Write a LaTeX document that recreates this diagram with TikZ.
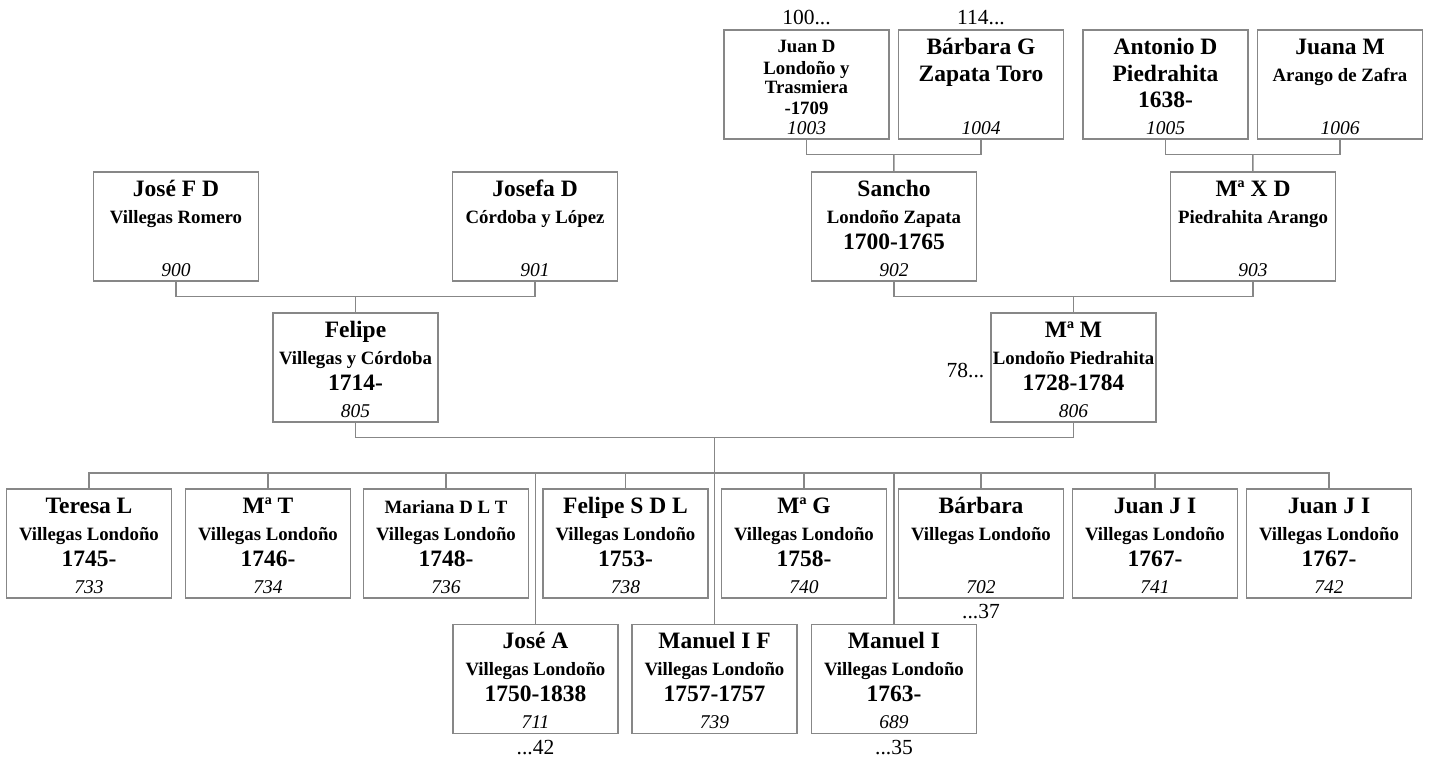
\documentclass[tikz,border=0pt]{standalone}
\usepackage{fontspec}
\setmainfont{Liberation Serif}
\usepackage{tikz}
\usetikzlibrary{calc,positioning}
\definecolor{linea}{RGB}{135,135,135}
\newcommand{\Grande}{\fontsize{23.5}{26}\selectfont}
\newcommand{\Medio}{\fontsize{18.8}{20.5}\selectfont}
% box: name, position, first names, surnames, years, id
\newcommand{\Persona}[6]{%
  \node[pbox] (#1) at (#2) {};
  \node[nom]   at ([yshift=-24pt]#1.north)  {#3};
  \node[ape]   at ([yshift=-51pt]#1.north)  {#4};
  \node[anio]  at ([yshift=-77pt]#1.north)  {#5};
  \node[ident] at ([yshift=-104pt]#1.north) {#6};
}

\begin{document}
\begin{tikzpicture}[
    x=1pt, y=-1pt,
    pbox/.style={rectangle, draw=linea, line width=1.5pt, minimum width=165pt, minimum height=109pt, inner sep=0pt, outer sep=0pt},
    nom/.style={font=\bfseries\Grande, anchor=base, inner sep=0pt},
    ape/.style={font=\bfseries\Medio, anchor=base, inner sep=0pt},
    anio/.style={font=\bfseries\Grande, anchor=base, inner sep=0pt},
    ident/.style={font=\itshape\fontsize{19.5}{22}\selectfont, anchor=base, inner sep=0pt},
    nota/.style={font=\fontsize{21.5}{24}\selectfont, inner sep=0pt},
    conn/.style={draw=linea, line width=1.5pt},
  ]
  \useasboundingbox (0,0) rectangle (1436,761);

  % generation 1000
  \node[pbox] (p1003) at (806.5,84.5) {};
  \node[ape] at ([yshift=-22.6pt]p1003.north) {Juan D};
  \node[ape] at ([yshift=-44pt]p1003.north) {Londoño y};
  \node[ape] at ([yshift=-63.6pt]p1003.north) {Trasmiera};
  \node[ape] at ([yshift=-84pt]p1003.north) {-1709};
  \node[ident] at ([yshift=-104pt]p1003.north) {1003};
  \Persona{p1004}{981,84.5}{Bárbara G}{\Grande Zapata Toro}{}{1004}
  \Persona{p1005}{1165.5,84.5}{Antonio D}{\Grande Piedrahita}{1638-}{1005}
  \Persona{p1006}{1340,84.5}{Juana M}{Arango de Zafra}{}{1006}

  % generation 900
  \Persona{p900}{176,226.5}{José F D}{Villegas Romero}{}{900}
  \Persona{p901}{535,226.5}{Josefa D}{Córdoba y López}{}{901}
  \Persona{p902}{894,226.5}{Sancho}{Londoño Zapata}{1700-1765}{902}
  \Persona{p903}{1253,226.5}{Mª X D}{Piedrahita Arango}{}{903}

  % generation 800
  \Persona{p805}{355.5,367.5}{Felipe}{Villegas y Córdoba}{1714-}{805}
  \Persona{p806}{1073.5,367.5}{Mª M}{Londoño Piedrahita}{1728-1784}{806}

  % children
  \Persona{p733}{89,543.5}{Teresa L}{Villegas Londoño}{1745-}{733}
  \Persona{p734}{268,543.5}{Mª T}{Villegas Londoño}{1746-}{734}
  \Persona{p736}{446,543.5}{\Medio Mariana D L T}{Villegas Londoño}{1748-}{736}
  \Persona{p738}{625.5,543.5}{Felipe S D L}{Villegas Londoño}{1753-}{738}
  \Persona{p740}{804,543.5}{Mª G}{Villegas Londoño}{1758-}{740}
  \Persona{p702}{981,543.5}{Bárbara}{Villegas Londoño}{}{702}
  \Persona{p741}{1155,543.5}{Juan J I}{Villegas Londoño}{1767-}{741}
  \Persona{p742}{1329,543.5}{Juan J I}{Villegas Londoño}{1767-}{742}
  \Persona{p711}{535.5,679}{José A}{Villegas Londoño}{1750-1838}{711}
  \Persona{p739}{714.5,679}{Manuel I F}{Villegas Londoño}{1757-1757}{739}
  \Persona{p689}{894,679}{Manuel I}{Villegas Londoño}{1763-}{689}

  % continuation marks
  \node[nota, anchor=base] at ([yshift=5.7pt]p1003.north) {100...};
  \node[nota, anchor=base] at ([yshift=5.7pt]p1004.north) {114...};
  \node[nota, anchor=base east] at ([xshift=-6.5pt, yshift=-9.5pt]p806.west) {78...};
  \node[nota, anchor=base] at ([yshift=-20pt]p702.south) {...37};
  \node[nota, anchor=base] at ([yshift=-21pt]p711.south) {...42};
  \node[nota, anchor=base] at ([yshift=-21pt]p689.south) {...35};

  % couples
  \coordinate (u902) at ($(p1003.south)!0.5!(p1004.south)+(0,15.5)$);
  \coordinate (u903) at ($(p1005.south)!0.5!(p1006.south)+(0,15.5)$);
  \coordinate (u805) at ($(p900.south)!0.5!(p901.south)+(0,15.5)$);
  \coordinate (u806) at ($(p902.south)!0.5!(p903.south)+(0,15.5)$);
  \coordinate (uhij) at ($(p805.south)!0.5!(p806.south)+(0,15.5)$);
  \draw[conn] (p1003.south) |- (u902) -| (p1004.south);
  \draw[conn] (u902) -- (p902.north);
  \draw[conn] (p1005.south) |- (u903) -| (p1006.south);
  \draw[conn] (u903) -- (p903.north);
  \draw[conn] (p900.south) |- (u805) -| (p901.south);
  \draw[conn] (u805) -- (p805.north);
  \draw[conn] (p902.south) |- (u806) -| (p903.south);
  \draw[conn] (u806) -- (p806.north);
  \draw[conn] (p805.south) |- (uhij) -| (p806.south);

  % children bus
  \coordinate (bus) at ($(uhij |- p733.north)+(0,-16)$);
  \draw[conn] (uhij) -- (bus);
  \draw[conn] (p733.north) -- ++(0,-16) -| (p742.north);
  \foreach \c in {p734,p736,p738,p740,p702,p741,p711,p739,p689}
    \draw[conn] (\c.north) -- (\c.north |- bus);
\end{tikzpicture}
\end{document}
